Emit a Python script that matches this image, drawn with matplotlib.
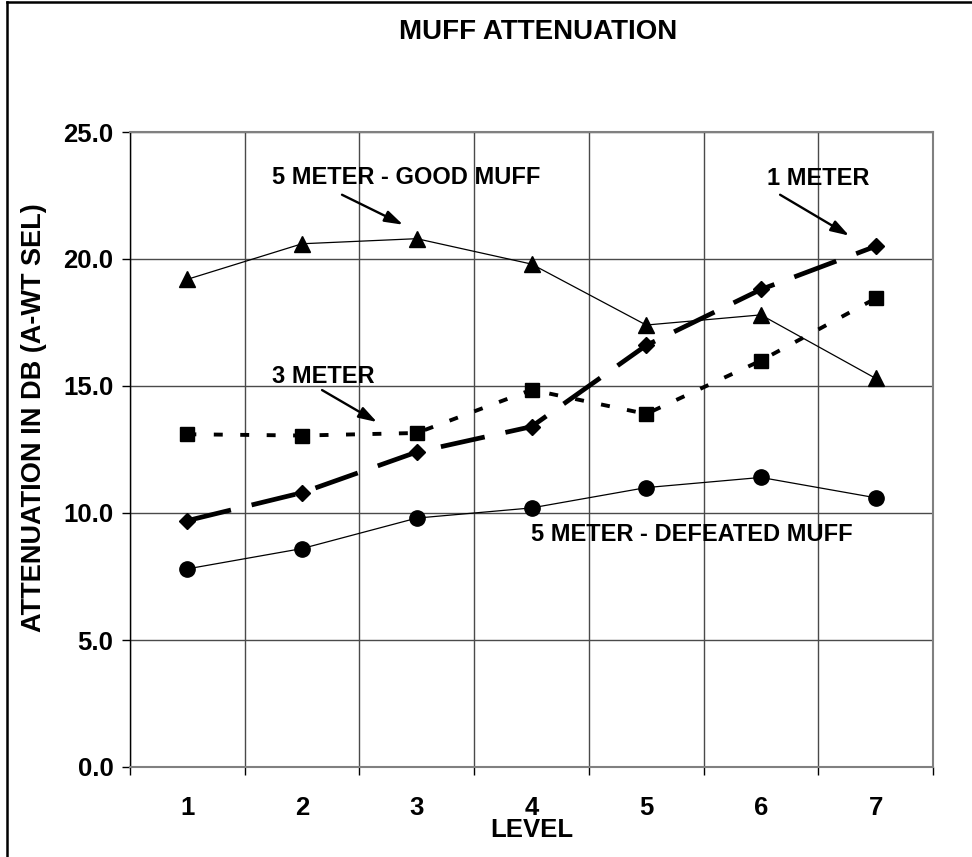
import matplotlib
matplotlib.use('Agg')
from matplotlib import pyplot as plt
from matplotlib.lines import Line2D
import numpy as np

plt.rcParams['font.family'] = ['Liberation Sans', 'DejaVu Sans']
plt.rcParams['font.weight'] = 'bold'

levels = [1, 2, 3, 4, 5, 6, 7]
good_muff_5m = [19.2, 20.6, 20.8, 19.8, 17.4, 17.8, 15.3]
one_meter = [9.7, 10.8, 12.4, 13.4, 16.6, 18.8, 20.5]
three_meter = [13.1, 13.05, 13.15, 14.85, 13.9, 16.0, 18.45]
defeated_muff_5m = [7.8, 8.6, 9.8, 10.2, 11.0, 11.4, 10.6]
y_ticks = [0.0, 5.0, 10.0, 15.0, 20.0, 25.0]

W, H = 972, 857
fig = plt.figure(figsize=(W / 100, H / 100), dpi=100)
ax = fig.add_axes([130 / W, 1 - 767 / H, 803 / W, 635 / H])

# series
ax.plot(levels, good_muff_5m, color='black', lw=0.9, marker='^', ms=11, zorder=4)
ax.plot(levels, one_meter, color='black', lw=3.4, dashes=(9.5, 4.5), marker='D', ms=8, zorder=5)
ax.plot(levels, three_meter, color='black', lw=2.8, dashes=(2.3, 4.5), marker='s', ms=10, zorder=5)
ax.plot(levels, defeated_muff_5m, color='black', lw=0.9, marker='o', ms=11, zorder=4)

ax.set_xlim(0.5, 7.5)
ax.set_ylim(0, 25)

# category boundaries carry ticks and grid, labels sit in the middle
ax.set_xticks(np.arange(0.5, 8, 1))
ax.set_xticklabels([])
ax.set_xticks(levels, minor=True)
ax.set_xticklabels([str(v) for v in levels], minor=True, fontsize=18.5, fontweight='bold')
ax.tick_params(axis='x', which='minor', length=0, pad=21)
ax.tick_params(axis='x', which='major', length=6, width=1, direction='out', color='black')

ax.set_yticks(y_ticks)
ax.set_yticklabels(['%.1f' % v for v in y_ticks], fontsize=18.5, fontweight='bold')
ax.tick_params(axis='y', length=6, width=1, direction='out', pad=6)

ax.grid(True, which='major', color='#4a4a4a', lw=1)
ax.set_axisbelow(True)
for side in ['top', 'right', 'bottom']:
    ax.spines[side].set_color('#808080')
    ax.spines[side].set_linewidth(1.5)
ax.spines['left'].set_color('black')
ax.spines['left'].set_linewidth(1)

ax.set_ylabel('ATTENUATION IN DB (A-WT SEL)', fontsize=19.5, fontweight='bold')
ax.yaxis.set_label_coords((47 - 130) / 803, (767 - 418) / 635)

fig.text(538 / W, 1 - 32 / H, 'MUFF ATTENUATION', ha='center', va='center',
         fontsize=20, fontweight='bold')
fig.text(532 / W, 1 - 830 / H, 'LEVEL', ha='center', va='center',
         fontsize=18.5, fontweight='bold')

# labels with arrows
arrow = dict(arrowstyle='-|>,head_length=1.1,head_width=0.35', color='black', lw=1.7,
             shrinkA=0, shrinkB=0)
ax.text(1.738, 23.2, '5 METER - GOOD MUFF', fontsize=17, fontweight='bold', va='center')
ax.annotate('', xy=(2.88, 21.35), xytext=(2.348, 22.53), arrowprops=arrow)
ax.text(6.054, 23.16, '1 METER', fontsize=17, fontweight='bold', va='center')
ax.annotate('', xy=(6.769, 20.92), xytext=(6.167, 22.53), arrowprops=arrow)
ax.text(1.738, 15.38, '3 METER', fontsize=17, fontweight='bold', va='center')
ax.annotate('', xy=(2.653, 13.58), xytext=(2.174, 14.84), arrowprops=arrow)
ax.text(3.996, 9.14, '5 METER - DEFEATED MUFF', fontsize=17, fontweight='bold', va='center')

# outer frame (left and top edges visible)
fig.add_artist(Line2D([7 / W, 7 / W], [0, 1 - 2 / H], color='black', lw=1.8))
fig.add_artist(Line2D([7 / W, 1], [1 - 2 / H, 1 - 2 / H], color='black', lw=1.8))

fig.savefig('out.png', dpi=100)
